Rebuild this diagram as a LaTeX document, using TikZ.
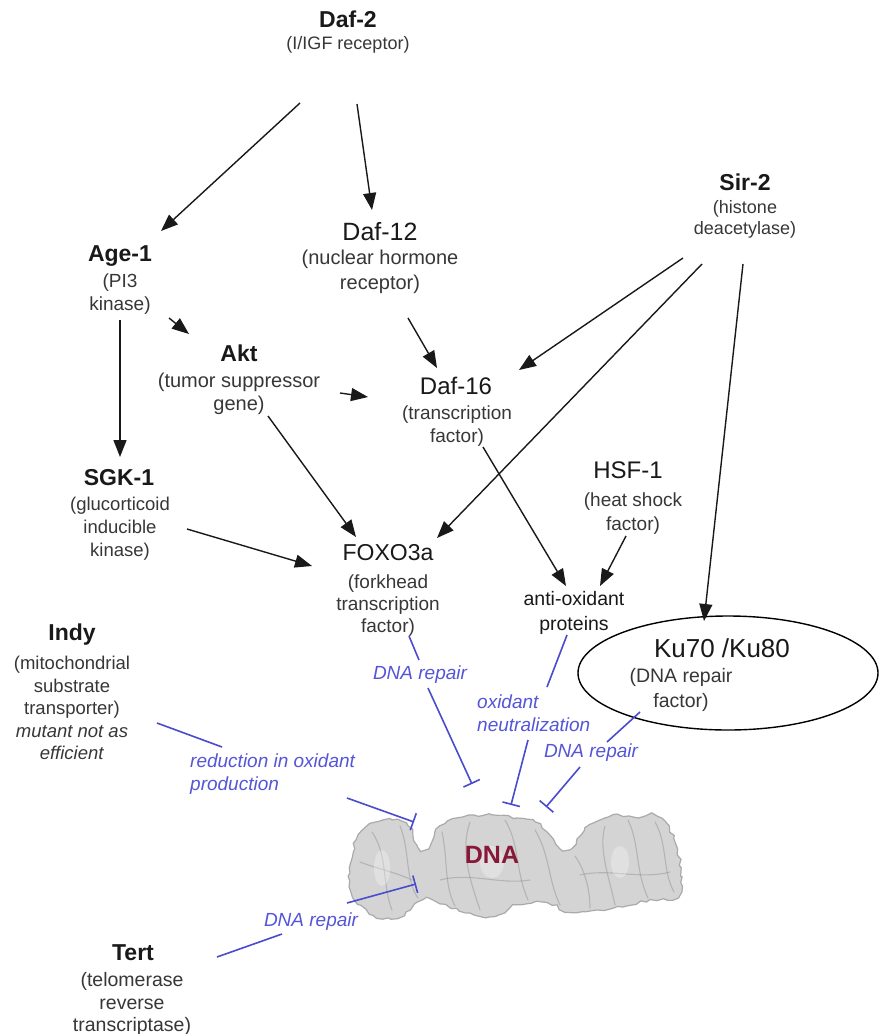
\documentclass[tikz,border=0pt]{standalone}
\usepackage{fontspec}
\setmainfont{Liberation Sans}
\usetikzlibrary{arrows.meta,shapes.geometric,decorations.pathmorphing}

\definecolor{titlec}{RGB}{25,25,25}
\definecolor{subc}{RGB}{55,55,55}
\definecolor{inhib}{RGB}{75,75,205}
\definecolor{bluetxt}{RGB}{85,85,215}
\definecolor{dnared}{RGB}{135,25,55}
\definecolor{dnafill}{RGB}{212,212,212}
\definecolor{dnaedge}{RGB}{170,170,170}
\definecolor{dnadark}{RGB}{150,150,150}

\tikzset{
  gtitle/.style={font=\fontsize{23}{27}\selectfont\bfseries, text=titlec, inner sep=0pt},
  gname/.style={font=\fontsize{24}{28}\selectfont, text=titlec, inner sep=0pt},
  gsub/.style={font=\fontsize{19}{23}\selectfont, text=subc, align=center, inner sep=0pt},
  lbl/.style={font=\fontsize{19}{23}\selectfont\itshape, text=bluetxt, inner sep=0pt},
  arr/.style={-{Triangle[length=17pt,width=13pt]}, line width=1.4pt, titlec},
  inh/.style={-{Bar[width=18pt]}, line width=1.6pt, inhib},
  seg/.style={line width=1.6pt, inhib},
}

\begin{document}
\begin{tikzpicture}[x=1pt,y=-1pt]
\useasboundingbox (0,0) rectangle (879,1034);
\fill[white] (0,0) rectangle (879,1034);

% ---- DNA molecule ----
\pgfmathsetseed{11}
\path[fill=dnafill, draw=dnaedge, line width=1.2pt,
      decorate, decoration={random steps, segment length=5pt, amplitude=1.6pt}]
  plot[smooth cycle, tension=0.6] coordinates {
    (350,873) (356,840) (370,824) (392,820) (408,826) (418,847) (428,846)
    (440,826) (463,817) (493,815) (517,818) (535,822) (547,832) (560,848)
    (572,848) (585,828) (600,820) (613,815) (635,817) (652,814) (665,822)
    (676,845) (682,877) (677,897) (650,900) (623,907) (597,910) (570,912)
    (547,903) (517,905) (495,916) (470,913) (440,904) (423,900) (397,918)
    (373,915) (353,897)};
% grooves and relief of the helix
\begin{scope}[line width=1.1pt, dnadark, opacity=.5, line cap=round]
  \draw (372,832) .. controls (388,855) and (382,885) .. (392,910);
  \draw (400,826) .. controls (410,850) and (405,880) .. (418,898);
  \draw (360,862) .. controls (375,868) and (395,872) .. (412,880);
  \draw (442,832) .. controls (448,860) and (444,885) .. (455,906);
  \draw (470,822) .. controls (460,850) and (470,880) .. (480,910);
  \draw (505,820) .. controls (520,845) and (515,870) .. (528,900);
  \draw (535,830) .. controls (550,855) and (548,880) .. (560,905);
  \draw (575,856) .. controls (585,870) and (590,890) .. (590,908);
  \draw (605,826) .. controls (598,850) and (610,880) .. (615,905);
  \draw (628,820) .. controls (640,845) and (635,870) .. (648,898);
  \draw (655,822) .. controls (668,845) and (662,870) .. (674,892);
  \draw (440,880) .. controls (470,872) and (500,885) .. (530,880);
  \draw (580,875) .. controls (610,868) and (640,880) .. (670,872);
\end{scope}
\begin{scope}[white, opacity=.3]
  \fill (382,868) ellipse [x radius=8, y radius=18];
  \fill (492,862) ellipse [x radius=12, y radius=16];
  \fill (620,862) ellipse [x radius=9, y radius=16];
\end{scope}
\node[font=\fontsize{25}{29}\selectfont\bfseries, text=dnared, inner sep=0pt] (dna) at (492,855) {DNA};

% ---- genes ----
\node[gtitle] (daf2) at (348,19) {Daf-2};
\node[gsub, font=\fontsize{18}{22}\selectfont] (daf2sub) at (348,45) {(I/IGF receptor)};

\node[gtitle] (age1) at (120,256) {Age-1};
\node[gsub] (age1sub) at (120,294.5) {(PI3\\kinase)};

\node[gname, font=\fontsize{25}{29}\selectfont] (daf12) at (380,232) {Daf-12};
\node[gsub, font=\fontsize{20}{25}\selectfont] (daf12sub) at (380,271.5) {(nuclear hormone\\receptor)};

\node[gtitle] (sir2) at (745,182) {Sir-2};
\node[gsub, font=\fontsize{18}{21}\selectfont] (sir2sub) at (745,219) {(histone\\deacetylase)};

\node[gtitle] (akt) at (239,353) {Akt};
\node[gsub, font=\fontsize{20}{23}\selectfont] (aktsub) at (239,394) {(tumor suppressor\\gene)};

\node[gname] (daf16) at (456,386) {Daf-16};
\node[gsub] (daf16sub) at (457,426.5) {(transcription\\factor)};

\node[gtitle] (sgk1) at (119,478) {SGK-1};
\node[gsub, font=\fontsize{18.5}{23}\selectfont] (sgk1sub) at (120,529) {(glucorticoid\\inducible\\kinase)};

\node[gname] (hsf1) at (628,470) {HSF-1};
\node[gsub, font=\fontsize{19}{24}\selectfont] (hsf1sub) at (633,514) {(heat shock\\factor)};

\node[gname, font=\fontsize{23}{27}\selectfont] (foxo) at (388,553) {FOXO3a};
\node[gsub, font=\fontsize{19}{22}\selectfont] (foxosub) at (388,606) {(forkhead\\transcription\\factor)};

\node[gsub, text=titlec, font=\fontsize{19.5}{25}\selectfont] (antiox) at (574,612.5) {anti-oxidant\\proteins};

\node[draw=black, line width=1.4pt, ellipse, minimum width=300pt, minimum height=114pt, inner sep=0pt] (kubox) at (728,673) {};
\node[gname, font=\fontsize{26}{30}\selectfont] (ku) at (722,648) {Ku70 /Ku80};
\node[gsub, font=\fontsize{19.5}{25}\selectfont] (kusub) at (681,689.5) {(DNA repair\\factor)};

\node[gtitle] (indy) at (72,635) {Indy};
\node[gsub, font=\fontsize{18.5}{22.5}\selectfont] (indysub) at (72,708)
  {(mitochondrial\\substrate\\transporter)\\\textit{mutant not as}\\\textit{efficient}};

\node[gtitle] (tert) at (133,953) {Tert};
\node[gsub, font=\fontsize{19.5}{22.5}\selectfont] (tertsub) at (132,1004) {(telomerase\\reverse\\transcriptase)};

% ---- effect labels ----
\node[lbl] (lblfoxo) at (420,675) {DNA repair};
\node[lbl, align=left, anchor=west] (lblox) at (477,713.5) {oxidant\\neutralization};
\node[lbl] (lblku) at (591,753) {DNA repair};
\node[lbl, align=left, anchor=west] (lblindy) at (190,774) {reduction in oxidant\\production};
\node[lbl] (lbltert) at (311,922) {DNA repair};

% ---- activating arrows ----
\draw[arr] ([shift={(-48,58)}]daf2sub.center) -- ([shift={(41,-25)}]age1.center);
\draw[arr] ([shift={(9,59)}]daf2sub.center) -- ([shift={(-8,-22)}]daf12.center);
\draw[arr] ([shift={(0,25.5)}]age1sub.center) -- ([shift={(1,-21)}]sgk1.center);
\draw[arr] ([shift={(49,23.5)}]age1sub.center) -- ([shift={(-50,-19)}]akt.center);
\draw[arr] ([shift={(101,-1)}]aktsub.center) -- ([shift={(-89,-29.5)}]daf16sub.center);
\draw[arr] ([shift={(28,46.5)}]daf12sub.center) -- ([shift={(-19,-18)}]daf16.center);
\draw[arr] ([shift={(-62,39)}]sir2sub.center) -- ([shift={(63,-16)}]daf16.center);
\draw[arr] ([shift={(-43,45)}]sir2sub.center) -- ([shift={(49,-15)}]foxo.center);
\draw[arr] ([shift={(-2,45)}]sir2sub.center) -- ([shift={(-24,-52)}]kubox.center);
\draw[arr] ([shift={(29,22)}]aktsub.center) -- ([shift={(-32,-16)}]foxo.center);
\draw[arr] ([shift={(67,0)}]sgk1sub.center) -- ([shift={(-76,13)}]foxo.center);
\draw[arr] ([shift={(26,20.5)}]daf16sub.center) -- ([shift={(-8,-26.5)}]antiox.center);
\draw[arr] ([shift={(-7,22)}]hsf1sub.center) -- ([shift={(26,-26.5)}]antiox.center);

% ---- protective (inhibitory) links onto DNA ----
\draw[seg] ([shift={(21,30)}]foxosub.center) -- ([shift={(-1,-15)}]lblfoxo.center);
\draw[inh] ([shift={(8,13)}]lblfoxo.center) -- ([shift={(-20,-71)}]dna.center);

\draw[seg] ([shift={(-7,22.5)}]antiox.center) -- ([shift={(70,-26.5)}]lblox.west);
\draw[inh] ([shift={(51,26.5)}]lblox.west) -- ([shift={(19,-50)}]dna.center);

\draw[seg] ([shift={(-41,22.5)}]kusub.center) -- ([shift={(16,-11)}]lblku.center);
\draw[inh] ([shift={(-11,14)}]lblku.center) -- ([shift={(54,-48)}]dna.center);

\draw[seg] ([shift={(85,15)}]indysub.center) -- ([shift={(32,-27)}]lblindy.west);
\draw[inh] ([shift={(157,24)}]lblindy.west) -- ([shift={(-78,-33)}]dna.center);

\draw[seg] ([shift={(84,4)}]tert.center) -- ([shift={(-29,12)}]lbltert.center);
\draw[inh] ([shift={(36,-19)}]lbltert.center) -- ([shift={(-76,29)}]dna.center);
\end{tikzpicture}
\end{document}
